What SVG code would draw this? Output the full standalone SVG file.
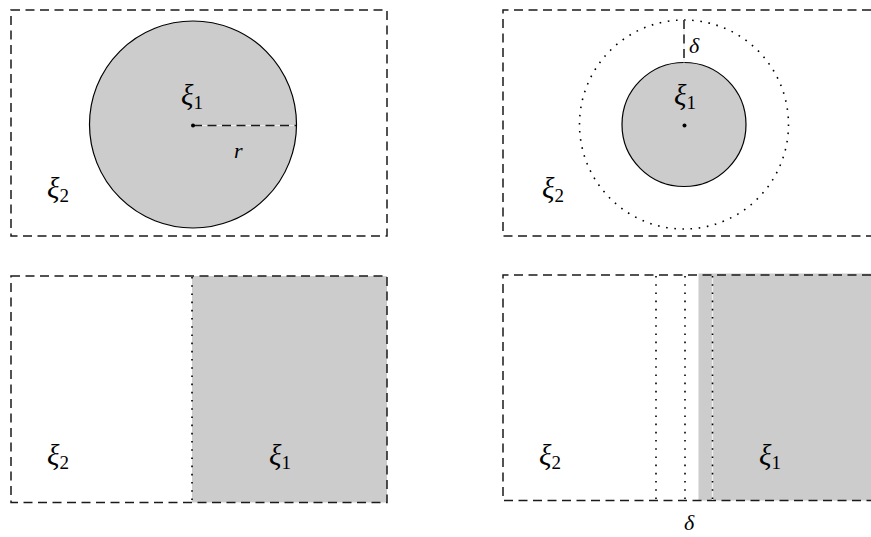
<svg xmlns="http://www.w3.org/2000/svg" width="871" height="537" viewBox="0 0 871 537">
<style>
.dash{fill:none;stroke:#1a1a1a;stroke-width:1.5;stroke-dasharray:9 5.5}
.dot{fill:none;stroke:#000;stroke-width:1.6;stroke-dasharray:1.6 6.6;stroke-linecap:butt}
.under{fill:none;stroke:#eeeeee;stroke-width:1.2}
.region{fill:#cccccc;stroke:#000;stroke-width:1.2}
.gray{fill:#cccccc;stroke:none}
.m{font-family:"Liberation Serif","DejaVu Serif",serif;font-style:italic;font-size:29px;fill:#000}
.s{font-family:"Liberation Serif","DejaVu Serif",serif;font-style:normal;font-size:19px;fill:#000}
.l{font-size:22px}
.c{fill:#000}
</style>
<g id="panel-top-left">
<rect class="dash" x="11" y="10" width="376" height="226"/>
<circle class="region" cx="193" cy="124.5" r="103.5"/>
<line class="under" x1="193" y1="125.5" x2="296" y2="125.5"/>
<line class="dash" x1="193" y1="125.5" x2="296" y2="125.5"/>
<circle class="c" cx="193" cy="125.5" r="2"/>
<text class="m" x="181" y="105">ξ<tspan class="s" dy="4">1</tspan></text>
<text class="m" x="47" y="198">ξ<tspan class="s" dy="4">2</tspan></text>
<text class="m l" x="234" y="158">r</text>
</g>
<g id="panel-top-right">
<path class="dash" d="M871,10 H503 V236 H871"/>
<circle class="dot" cx="684" cy="124.5" r="104.5"/>
<circle class="region" cx="684" cy="124.5" r="62"/>
<line class="under" x1="684" y1="20" x2="684" y2="62.5"/>
<line class="dash" x1="684" y1="20" x2="684" y2="62.5"/>
<circle class="c" cx="684.5" cy="125.5" r="2"/>
<text class="m" x="674" y="105">ξ<tspan class="s" dy="4">1</tspan></text>
<text class="m" x="542" y="198">ξ<tspan class="s" dy="4">2</tspan></text>
<text class="m l" x="689" y="53">δ</text>
</g>
<g id="panel-bottom-left">
<rect class="gray" x="192" y="276" width="195" height="226.5"/>
<rect class="dash" x="11" y="276" width="376" height="226.5"/>
<line class="dot" x1="192" y1="277" x2="192" y2="502"/>
<text class="m" x="47" y="465">ξ<tspan class="s" dy="4">2</tspan></text>
<text class="m" x="269" y="465">ξ<tspan class="s" dy="4">1</tspan></text>
</g>
<g id="panel-bottom-right">
<rect class="gray" x="698.5" y="273.5" width="173" height="227"/>
<path class="dash" d="M871,275 H503 V500.5 H871"/>
<line class="dot" x1="656" y1="276" x2="656" y2="500"/>
<line class="dot" x1="685" y1="276" x2="685" y2="500"/>
<line class="under" x1="712.5" y1="276" x2="712.5" y2="500"/>
<line class="dot" x1="712.5" y1="276" x2="712.5" y2="500"/>
<text class="m" x="539" y="465">ξ<tspan class="s" dy="4">2</tspan></text>
<text class="m" x="759" y="465">ξ<tspan class="s" dy="4">1</tspan></text>
<text class="m l" x="684" y="530">δ</text>
</g>
</svg>
